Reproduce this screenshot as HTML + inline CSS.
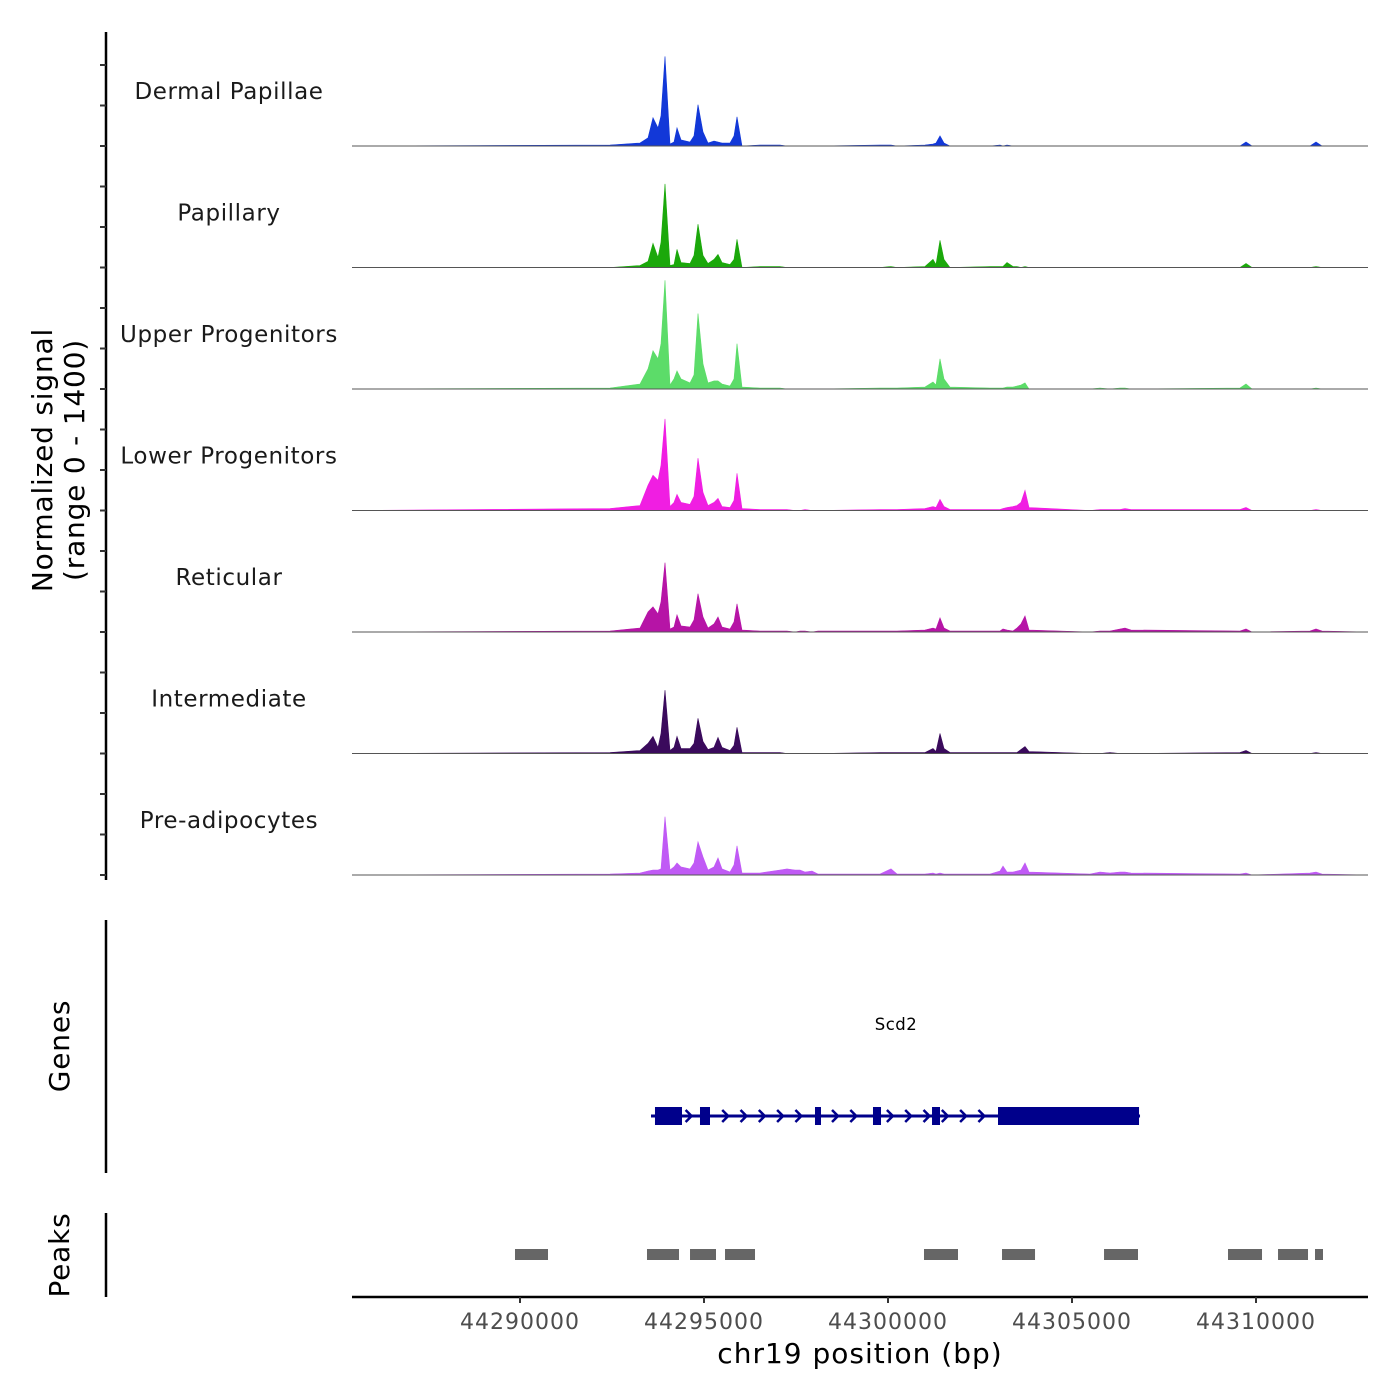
<!DOCTYPE html>
<html><head><meta charset="utf-8"><style>
body{margin:0;background:#fff}
svg{display:block;font-family:"DejaVu Sans","Liberation Sans",sans-serif}
</style></head><body>
<svg id="chart" width="1400" height="1400" viewBox="0 0 1400 1400">
<g id="tracks"></g>
<g id="left"></g>
<g id="genes"></g>
<g id="peaks"></g>
<g id="xaxis"></g>
</svg>
<script>
const positions = [44285435,44292446,44293261,44293478,44293614,44293750,44293832,44293940,44294076,44294185,44294266,44294375,44294620,44294728,44294837,44294973,44295109,44295272,44295380,44295489,44295707,44295815,44295897,44296033,44296522,44297065,44297255,44297473,44297609,44297745,44297935,44298098,44299783,44300082,44300245,44301005,44301223,44301304,44301413,44301522,44301685,44302772,44303043,44303125,44303234,44303397,44303505,44303614,44303723,44303832,44305489,44305761,44306033,44306304,44306440,44306603,44309565,44309728,44309891,44311467,44311630,44311793,44313043];
const trackNames = ["Dermal Papillae","Papillary","Upper Progenitors","Lower Progenitors","Reticular","Intermediate","Pre-adipocytes"];
const trackColors = ["#1238d8","#1ba80b","#5cdc69","#f01ee2","#b614a6","#3a0a5c","#c05af5"];
const dermal = [0,12,35,93,325,209,348,1032,23,46,209,70,46,116,476,162,35,58,46,35,35,116,336,0,12,12,0,0,0,0,0,0,12,12,0,12,23,35,116,35,0,0,12,0,12,0,0,0,0,0,0,0,0,0,0,0,0,46,0,0,46,0,0];
const papillary = [0,0,23,70,278,116,290,963,23,35,209,58,46,139,499,139,46,93,151,58,35,93,325,0,12,12,0,0,0,0,0,0,0,12,0,12,93,35,313,93,0,12,12,12,58,12,12,0,12,0,0,0,0,0,0,0,0,46,0,0,12,0,0];
const upper = [0,12,58,232,441,348,522,1253,46,116,209,116,70,162,870,290,70,93,93,58,35,116,522,23,12,12,0,0,0,0,0,0,12,12,12,23,81,46,348,116,23,12,12,12,23,23,35,46,70,0,0,12,0,12,12,0,12,58,0,0,12,0,0];
const lower = [0,23,58,290,406,348,522,1056,46,93,186,93,70,162,603,209,58,93,139,46,35,116,429,23,12,12,12,0,0,12,0,0,12,12,12,23,46,35,128,46,12,12,12,23,35,46,58,93,232,35,0,12,12,12,23,12,12,35,0,0,12,0,0];
const reticular = [0,12,46,232,290,209,348,800,35,58,197,70,58,139,441,174,46,93,174,58,35,116,325,23,12,12,12,0,12,12,0,12,12,12,12,23,46,35,162,46,12,12,12,35,23,12,46,93,186,23,0,12,12,35,46,23,12,35,0,12,35,12,0];
const intermediate = [0,12,35,116,197,70,232,731,35,70,197,58,58,116,406,139,46,70,186,70,35,93,302,12,12,12,0,0,0,0,0,0,12,12,12,12,58,23,232,58,12,12,12,12,12,12,12,46,81,23,0,0,12,0,0,0,12,35,0,0,12,0,0];
const preadipo = [0,12,23,46,58,58,70,673,58,93,139,93,70,139,383,209,58,93,197,70,35,116,336,23,23,58,70,58,58,35,46,12,12,70,12,12,23,12,23,12,12,12,46,104,35,35,46,58,139,35,12,35,23,35,35,23,12,23,0,23,35,12,0];
const xTicks = [44290000,44295000,44300000,44305000,44310000];
const peakStarts = [44289864,44293451,44294620,44295571,44300978,44303098,44305870,44309239,44310598,44311603];
const peakEnds = [44290761,44294321,44295326,44296386,44301902,44303995,44306793,44310163,44311413,44311820];
const geneStart = 44293560, geneEnd = 44306848;
const exonStarts = [44293668,44294891,44298016,44299592,44301196,44302989];
const exonEnds = [44294402,44295163,44298179,44299810,44301413,44306821];
const yMax = 1400;

const series = [dermal,papillary,upper,lower,reticular,intermediate,preadipo];
const NS="http://www.w3.org/2000/svg";
function mk(tag,attrs,parent){const e=document.createElementNS(NS,tag);for(const k in attrs)e.setAttribute(k,attrs[k]);parent.appendChild(e);return e;}
const X0=352,X1=1368,B0=44285435,B1=44313043;
const xs=bp=>X0+(bp-B0)/(B1-B0)*(X1-X0);
const trackH=121.5, base0=146;
const ys=(v,i)=>base0+i*trackH - v/yMax*trackH;

const tg=document.getElementById('tracks');
series.forEach((s,i)=>{
  const g=mk('g',{},tg);
  
  
  let d='M'+xs(positions[0])+','+ys(0,i);
  positions.forEach((p,j)=>{d+=' L'+xs(p).toFixed(1)+','+ys(s[j],i).toFixed(1);});
  d+=' L'+xs(positions[positions.length-1])+','+ys(0,i)+' Z';
  const a=mk('path',{d:d,fill:trackColors[i],stroke:trackColors[i],'stroke-width':0.6},g);
  
  
  const bl=mk('line',{x1:X0,x2:X1,y1:ys(0,i),y2:ys(0,i),stroke:'#555','stroke-width':1},g);
  
  
  const t=mk('text',{x:229,y:ys(0,i)-47,'font-size':23,'text-anchor':'middle',fill:'#1a1a1a','letter-spacing':'0.6'},g);
  t.textContent=trackNames[i];
  
  
});

const lg=document.getElementById('left');
mk('line',{x1:106,x2:106,y1:32,y2:880,stroke:'#000','stroke-width':2.5},lg);
for(let k=0;k<21;k++){const y=875-k*trackH/3;mk('line',{x1:100,x2:106,y1:y,y2:y,stroke:'#333','stroke-width':2},lg);}
const yt=mk('text',{transform:'translate(52,460) rotate(-90)','font-size':28,'text-anchor':'middle',fill:'#000','letter-spacing':'0.8'},lg);


yt.innerHTML='<tspan x="0" dy="0">Normalized signal</tspan><tspan x="0" dy="32">(range 0 - 1400)</tspan>';
mk('line',{x1:106,x2:106,y1:920,y2:1173,stroke:'#000','stroke-width':2.5},lg);
mk('line',{x1:106,x2:106,y1:1213,y2:1297,stroke:'#000','stroke-width':2.5},lg);
const gt=mk('text',{transform:'translate(69,1046) rotate(-90)','font-size':28,'text-anchor':'middle','letter-spacing':'0.8'},lg);gt.textContent='Genes';


const pt=mk('text',{transform:'translate(69,1255) rotate(-90)','font-size':28,'text-anchor':'middle','letter-spacing':'0.8'},lg);pt.textContent='Peaks';



const gg=document.getElementById('genes');
const gy=1116, gc='#00008b';
mk('line',{x1:xs(geneStart),x2:xs(geneEnd),y1:gy,y2:gy,stroke:gc,'stroke-width':3},gg);
for(let x=xs(geneStart)+2;x<xs(geneEnd);x+=18.3){
  const inside=exonStarts.some((s,j)=>x>xs(s)-3&&x<xs(exonEnds[j])+3);
  if(!inside)mk('path',{d:`M${x-4},${gy-6} L${x+2},${gy} L${x-4},${gy+6}`,fill:'none',stroke:gc,'stroke-width':2.5},gg);
}
exonStarts.forEach((s,j)=>{
  const r=mk('rect',{x:xs(s),y:gy-9,width:xs(exonEnds[j])-xs(s),height:18,fill:gc},gg);
  
  
});
const gn=mk('text',{x:896,y:1030,'font-size':16.5,'text-anchor':'middle',fill:'#000','letter-spacing':'0.5'},gg);gn.textContent='Scd2';



const pg=document.getElementById('peaks');
peakStarts.forEach((s,j)=>{
  const r=mk('rect',{x:xs(s),y:1249,width:xs(peakEnds[j])-xs(s),height:11,fill:'#666'},pg);
  
  
});

const xg=document.getElementById('xaxis');
mk('line',{x1:X0,x2:X1,y1:1297,y2:1297,stroke:'#000','stroke-width':2.5},xg);
xTicks.forEach(t=>{
  const x=xs(t);
  mk('line',{x1:x,x2:x,y1:1297,y2:1303,stroke:'#333','stroke-width':2},xg);
  const l=mk('text',{x:x,y:1329,'font-size':22,'text-anchor':'middle',fill:'#4d4d4d','letter-spacing':'1'},xg);l.textContent=t;
  
  
});
const xt=mk('text',{x:860,y:1363,'font-size':28,'text-anchor':'middle',fill:'#000','letter-spacing':'1'},xg);xt.textContent='chr19 position (bp)';


</script>
</body></html>
